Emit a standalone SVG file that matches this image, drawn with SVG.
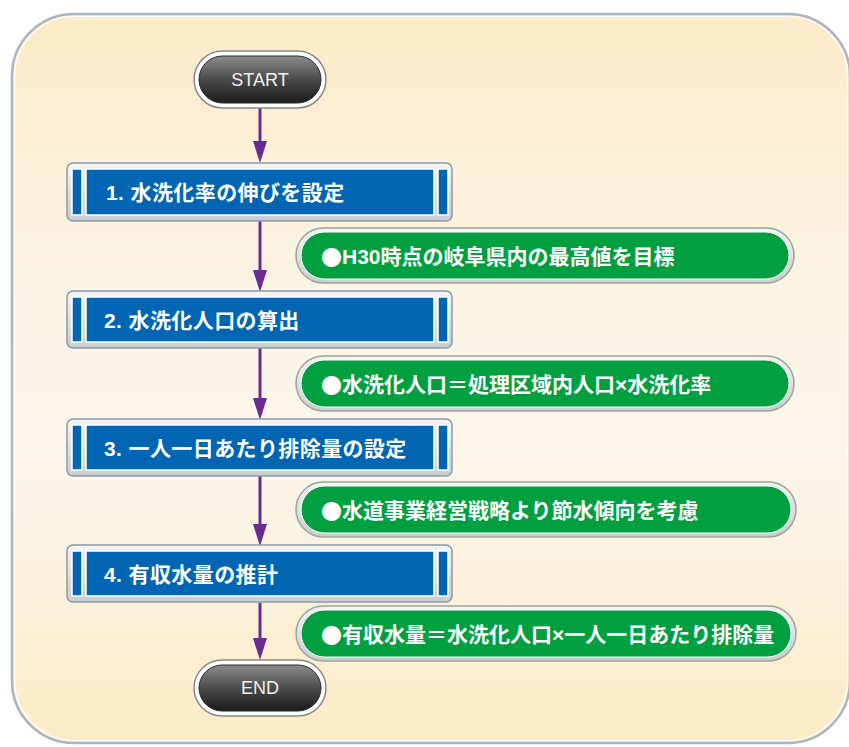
<svg xmlns="http://www.w3.org/2000/svg" width="849" height="747" viewBox="0 0 849 747">
<defs>
<linearGradient id="bg" x1="0" y1="0" x2="0" y2="1">
<stop offset="0" stop-color="#fcebc9"/>
<stop offset="0.35" stop-color="#fbf3e2"/>
<stop offset="0.6" stop-color="#fbf6ed"/>
<stop offset="1" stop-color="#fcebc6"/>
</linearGradient>
<linearGradient id="dark" x1="0" y1="0" x2="0" y2="1">
<stop offset="0" stop-color="#8c8c8c"/>
<stop offset="0.5" stop-color="#4a4a4a"/>
<stop offset="1" stop-color="#1c1c1c"/>
</linearGradient>
<linearGradient id="ring" x1="0" y1="0" x2="0" y2="1">
<stop offset="0" stop-color="#f4f4f4"/>
<stop offset="1" stop-color="#c8cdd2"/>
</linearGradient>
<marker id="ah" viewBox="0 0 22 14" refX="12" refY="7" markerWidth="22" markerHeight="14" markerUnits="userSpaceOnUse" orient="auto">
<path d="M0,0 L22,7 L0,14 z" fill="#6a2c90"/>
</marker>
</defs>
<style>
.frame{fill:url(#ring);stroke:#8d98a6;stroke-width:1.5}
.blue{fill:#0066b3;stroke:#ffffff;stroke-width:1.5}
.gring{fill:url(#ring);stroke:#9aa59c;stroke-width:1.5}
.green{fill:#00a040;stroke:#ffffff;stroke-width:1}
.dring{fill:#ffffff;stroke:#8a8a8a;stroke-width:1.5}
.dpill{fill:url(#dark);stroke:#2a2a2a;stroke-width:1}
.conn{stroke:#6a2c90;stroke-width:3;fill:none;marker-end:url(#ah)}
.bt{font-family:"Liberation Sans","Noto Sans CJK JP",sans-serif;font-weight:bold;font-size:21px;letter-spacing:0.4px;fill:#ffffff;dominant-baseline:central}
.gt{font-family:"Liberation Sans","Noto Sans CJK JP",sans-serif;font-weight:bold;font-size:21px;fill:#ffffff;dominant-baseline:central}
.dot{font-family:"Noto Sans CJK JP",sans-serif}
.st{font-family:"Liberation Sans",Arial,sans-serif;font-size:18px;fill:#f0f0f0;text-anchor:middle;dominant-baseline:central}
</style>
<rect x="0" y="0" width="849" height="747" fill="#ffffff"/>
<rect x="12" y="14" width="838" height="729" rx="62" fill="url(#bg)" stroke="#aab5c4" stroke-width="2.5"/>
<rect x="14.5" y="16.5" width="833" height="724" rx="60" fill="none" stroke="#ffffff" stroke-width="1.2"/>

<g id="connectors">
<line class="conn" x1="260" y1="107" x2="260" y2="153"/>
<line class="conn" x1="260" y1="221" x2="260" y2="282"/>
<line class="conn" x1="260" y1="348" x2="260" y2="410"/>
<line class="conn" x1="260" y1="476" x2="260" y2="536"/>
<line class="conn" x1="260" y1="603" x2="260" y2="650"/>
</g>

<g id="start">
<rect class="dring" x="194" y="51" width="132" height="57" rx="28.5"/>
<rect class="dpill" x="199" y="56" width="122" height="47" rx="23.5"/>
<text class="st" x="260" y="80">START</text>
</g>

<g id="step1">
<rect class="frame" x="67" y="163" width="385" height="58" rx="6"/>
<rect class="blue" x="72" y="169" width="10" height="46"/>
<rect class="blue" x="86" y="169" width="348" height="46"/>
<rect class="blue" x="438" y="169" width="10" height="46"/>
<text class="bt" x="106" y="192">1. 水洗化率の伸びを設定</text>
</g>

<g id="note1">
<rect class="gring" x="296" y="228" width="498" height="55" rx="27.5"/>
<rect class="green" x="301" y="232" width="488" height="47" rx="23.5"/>
<text class="gt" x="321" y="256"><tspan class="dot">●</tspan>H30時点の岐阜県内の最高値を目標</text>
</g>

<g id="step2">
<rect class="frame" x="67" y="291" width="385" height="57" rx="6"/>
<rect class="blue" x="72" y="297" width="10" height="45"/>
<rect class="blue" x="86" y="297" width="348" height="45"/>
<rect class="blue" x="438" y="297" width="10" height="45"/>
<text class="bt" x="104" y="320">2. 水洗化人口の算出</text>
</g>

<g id="note2">
<rect class="gring" x="296" y="356" width="498" height="55" rx="27.5"/>
<rect class="green" x="301" y="360" width="488" height="47" rx="23.5"/>
<text class="gt" x="321" y="384"><tspan class="dot">●</tspan>水洗化人口＝処理区域内人口×水洗化率</text>
</g>

<g id="step3">
<rect class="frame" x="67" y="419" width="385" height="57" rx="6"/>
<rect class="blue" x="72" y="425" width="10" height="45"/>
<rect class="blue" x="86" y="425" width="348" height="45"/>
<rect class="blue" x="438" y="425" width="10" height="45"/>
<text class="bt" x="104" y="448">3. 一人一日あたり排除量の設定</text>
</g>

<g id="note3">
<rect class="gring" x="296" y="482" width="500" height="55" rx="27.5"/>
<rect class="green" x="301" y="486" width="490" height="47" rx="23.5"/>
<text class="gt" x="321" y="510"><tspan class="dot">●</tspan>水道事業経営戦略より節水傾向を考慮</text>
</g>

<g id="step4">
<rect class="frame" x="67" y="545" width="385" height="57" rx="6"/>
<rect class="blue" x="72" y="551" width="10" height="45"/>
<rect class="blue" x="86" y="551" width="348" height="45"/>
<rect class="blue" x="438" y="551" width="10" height="45"/>
<text class="bt" x="104" y="574">4. 有収水量の推計</text>
</g>

<g id="note4">
<rect class="gring" x="296" y="606" width="500" height="55" rx="27.5"/>
<rect class="green" x="301" y="610" width="490" height="47" rx="23.5"/>
<text class="gt" x="321" y="634"><tspan class="dot">●</tspan>有収水量＝水洗化人口×一人一日あたり排除量</text>
</g>

<g id="end">
<rect class="dring" x="194" y="660" width="132" height="56" rx="28"/>
<rect class="dpill" x="199" y="665" width="122" height="46" rx="23"/>
<text class="st" x="260" y="688">END</text>
</g>
</svg>
